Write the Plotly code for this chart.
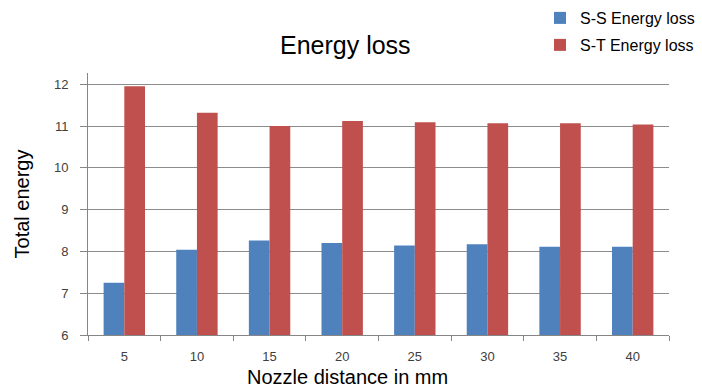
import plotly.graph_objects as go

categories = ["5", "10", "15", "20", "25", "30", "35", "40"]
ss_loss = [7.25, 8.04, 8.26, 8.20, 8.14, 8.17, 8.11, 8.11]
st_loss = [11.95, 11.32, 11.00, 11.12, 11.09, 11.07, 11.07, 11.04]
y_ticks = [6, 7, 8, 9, 10, 11, 12]

W, H = 702, 387
L, R, T, B = 88, 33, 73, 52
PW, PH = W - L - R, H - T - B
FONT = "Liberation Sans, Arial, sans-serif"

fig = go.Figure()
fig.add_trace(go.Bar(x=categories, y=ss_loss, name="S-S Energy loss",
                     marker=dict(color="#4F81BD", line=dict(width=0)), legend="legend"))
fig.add_trace(go.Bar(x=categories, y=st_loss, name="S-T Energy loss",
                     marker=dict(color="#C0504D", line=dict(width=0)), legend="legend2"))

def paper_x(p):
    return (p - L) / PW

def paper_y(p):
    return (H - B - p) / PH

legend_common = dict(xref="paper", yref="paper", xanchor="left", yanchor="middle",
                     font=dict(family=FONT, size=16, color="#000"), bgcolor="rgba(0,0,0,0)",
                     itemwidth=30, borderwidth=0)

fig.update_layout(
    width=W, height=H,
    margin=dict(l=L, r=R, t=T, b=B, pad=0, autoexpand=False),
    paper_bgcolor="white", plot_bgcolor="white",
    barmode="group", bargap=0.43, bargroupgap=0,
    font=dict(family=FONT, color="#000"),
    showlegend=True,
    legend=dict(x=paper_x(540), y=paper_y(18), **legend_common),
    legend2=dict(x=paper_x(540), y=paper_y(45), **legend_common),
    xaxis=dict(
        type="category", tickson="boundaries", ticks="outside", ticklen=5,
        tickcolor="#868686", showline=True, linecolor="#868686", linewidth=1,
        showgrid=False, tickfont=dict(family=FONT, size=13, color="#404040"),
        ticklabelstandoff=9,
    ),
    yaxis=dict(
        range=[6, 12.27], tickvals=y_ticks, ticks="outside", ticklen=7,
        tickcolor="#868686", showline=True, linecolor="#868686", linewidth=1,
        showgrid=True, gridcolor="#8c8c8c", gridwidth=1, zeroline=False,
        tickfont=dict(family=FONT, size=13, color="#404040"),
        ticklabelstandoff=9,
        title=dict(text="Total energy", font=dict(family=FONT, size=20, color="#000"), standoff=18),
    ),
    annotations=[
        dict(text="Energy loss", xref="paper", yref="paper",
             x=paper_x(345), y=paper_y(45),
             xanchor="center", yanchor="middle", showarrow=False,
             font=dict(family=FONT, size=25, color="#000")),
        dict(text="Nozzle distance in mm", xref="paper", yref="paper",
             x=paper_x(347), y=paper_y(377),
             xanchor="center", yanchor="middle", showarrow=False,
             font=dict(family=FONT, size=20, color="#000")),
    ],
)

fig.write_html("out.html")
